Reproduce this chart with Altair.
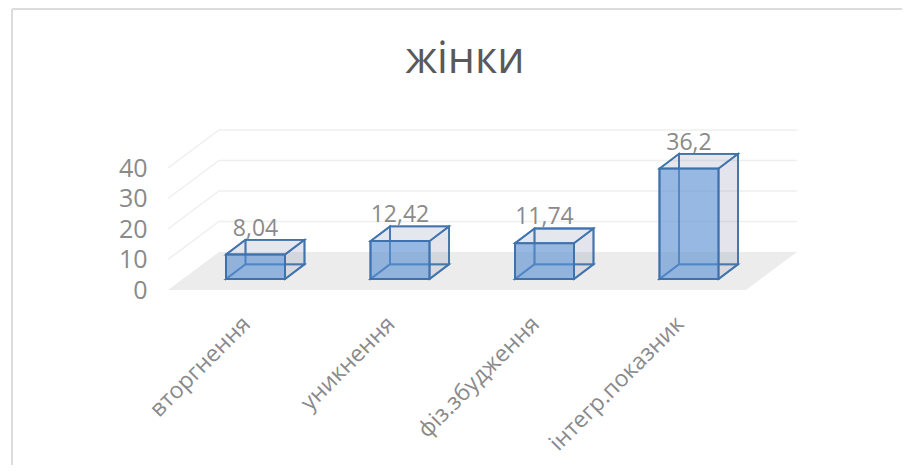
import json
import altair as alt
import pandas as pd

categories = ["вторгнення", "уникнення", "фіз.збудження", "інтегр.показник"]
values = [8.04, 12.42, 11.74, 36.2]
value_labels = ["8,04", "12,42", "11,74", "36,2"]
y_ticks = [0, 10, 20, 30, 40]

FONT = "Open Sans"
GREY = "#8a8a8a"
EDGE = "#3f72ad"

# projection: plot px per unit
PXX, PXY = 144.5, 3.05
W, H = 629, 160
FLOOR_DX, FLOOR_DY = 51 / PXX, 38 / PXY
BAR_X, BAR_W = 58 / PXX, 59 / PXX
BAR_BASE = 11 / PXY
DEPTH_X, DEPTH_Y = 19.5 / PXX, 14.7 / PXY
n = len(categories)

label_expr = f"{json.dumps(categories, ensure_ascii=False)}[floor(datum.value)]"
y_axis = alt.Axis(values=y_ticks, grid=False, domain=False, ticks=False,
                  labelFont=FONT, labelFontSize=25, labelColor=GREY,
                  labelPadding=21, labelOverlap=False, labelFlush=False)
x_axis = alt.Axis(values=[i + 0.5 for i in range(n)], labelExpr=label_expr,
                  grid=False, domain=False, ticks=False, labelAngle=-45,
                  labelAlign="right", labelBaseline="middle", labelFont=FONT,
                  labelFontSize=23, labelColor=GREY, labelPadding=30,
                  labelOffset=6, labelOverlap=False, labelBound=False,
                  labelFlush=False, labelLimit=400)

xs = alt.Scale(domain=[0, W / PXX], nice=False, zero=False)
ys = alt.Scale(domain=[0, H / PXY], nice=False, zero=False)
X = lambda f: alt.X(f, type="quantitative", scale=xs, title=None, axis=x_axis)
Y = lambda f: alt.Y(f, type="quantitative", scale=ys, title=None, axis=y_axis)

front, back, top, bottom, sides, labels = [], [], [], [], [], []
for i, v in enumerate(values):
    x0 = i + BAR_X
    x1 = x0 + BAR_W
    b = BAR_BASE
    t = BAR_BASE + v
    front.append(dict(x=x0, x2=x1, y=b, y2=t))
    back.append(dict(x=x0 + DEPTH_X, x2=x1 + DEPTH_X, y=b + DEPTH_Y, y2=t + DEPTH_Y))
    for nm, lv, rows in (("t", t, top), ("b", b, bottom)):
        rows.append(dict(k=i, y=lv, x=x0, x2=x1))
        rows.append(dict(k=i, y=lv + DEPTH_Y, x=x0 + DEPTH_X, x2=x1 + DEPTH_X))
    for nm, xp in (("l", x0), ("r", x1)):
        sides.append(dict(k=f"{i}{nm}", x=xp, y=b, y2=t))
        sides.append(dict(k=f"{i}{nm}", x=xp + DEPTH_X, y=b + DEPTH_Y, y2=t + DEPTH_Y))
    labels.append(dict(x=(x0 + x1) / 2, y=t + DEPTH_Y, t=value_labels[i]))

floor = pd.DataFrame([
    dict(y=0, x=0, x2=n),
    dict(y=FLOOR_DY, x=FLOOR_DX, x2=n + FLOOR_DX),
])
grid = []
for tv in y_ticks[1:]:
    grid += [
        dict(k=tv, o=0, x=0, y=tv),
        dict(k=tv, o=1, x=FLOOR_DX, y=tv + FLOOR_DY),
        dict(k=tv, o=2, x=n + FLOOR_DX, y=tv + FLOOR_DY),
    ]

floor_layer = alt.Chart(floor).mark_area(orient="horizontal", color="#ececec").encode(
    y=Y("y"), x=X("x"), x2="x2",
)
grid_layer = alt.Chart(pd.DataFrame(grid)).mark_line(color="#efefef", strokeWidth=1.5).encode(
    x=X("x"), y=Y("y"), detail="k:N", order="o:Q"
)
back_layer = alt.Chart(pd.DataFrame(back)).mark_rect(
    fill="#8d96b5", fillOpacity=0.13, stroke=EDGE, strokeWidth=1.8, strokeOpacity=0.9
).encode(x=X("x"), x2="x2", y=Y("y"), y2="y2")
bottom_layer = alt.Chart(pd.DataFrame(bottom)).mark_area(
    orient="horizontal", fill="#8d96b5", fillOpacity=0.08, stroke=EDGE, strokeWidth=1.8, strokeOpacity=0.9
).encode(y=Y("y"), x=X("x"), x2="x2", detail="k:N")
side_layer = alt.Chart(pd.DataFrame(sides)).mark_area(
    fill="#8d96b5", fillOpacity=0.13, stroke=EDGE, strokeWidth=1.8, strokeOpacity=0.9
).encode(x=X("x"), y=Y("y"), y2="y2", detail="k:N")
top_layer = alt.Chart(pd.DataFrame(top)).mark_area(
    orient="horizontal", fill="#8d96b5", fillOpacity=0.1, stroke=EDGE, strokeWidth=1.8, strokeOpacity=0.9
).encode(y=Y("y"), x=X("x"), x2="x2", detail="k:N")
front_layer = alt.Chart(pd.DataFrame(front)).mark_rect(
    fill="#5b93d6", fillOpacity=0.6, stroke=EDGE, strokeWidth=2
).encode(x=X("x"), x2="x2", y=Y("y"), y2="y2")
label_layer = alt.Chart(pd.DataFrame(labels)).mark_text(
    font=FONT, fontSize=23, color=GREY, baseline="alphabetic", dy=-4
).encode(x=X("x"), y=Y("y"), text="t:N")
title_layer = alt.Chart(pd.DataFrame({"t": ["жінки"]})).mark_text(
    font=FONT, fontSize=43, color="#595959", fontWeight=500, baseline="middle",
    align="center",
).encode(x=alt.value(297), y=alt.value(-70), text="t:N")
frame_left = alt.Chart(pd.DataFrame({"a": [0]})).mark_rule(color="#dcdcdc", strokeWidth=2).encode(
    x=alt.value(-156), y=alt.value(-121), y2=alt.value(335)
)
frame_top = alt.Chart(pd.DataFrame({"a": [0]})).mark_rule(color="#dcdcdc", strokeWidth=2).encode(
    y=alt.value(-121), x=alt.value(-156), x2=alt.value(734)
)

chart = alt.layer(
    floor_layer, frame_left, frame_top, grid_layer, back_layer, bottom_layer,
    side_layer, top_layer, front_layer, label_layer, title_layer,
).properties(
    width=W, height=H, background="white",
    autosize=alt.AutoSizeParams(type="none"),
    padding={"left": 160, "top": 122, "right": 105, "bottom": 175},
).configure_view(stroke=None)

chart.save("out.html", embed_options={"renderer": "svg", "actions": False})
